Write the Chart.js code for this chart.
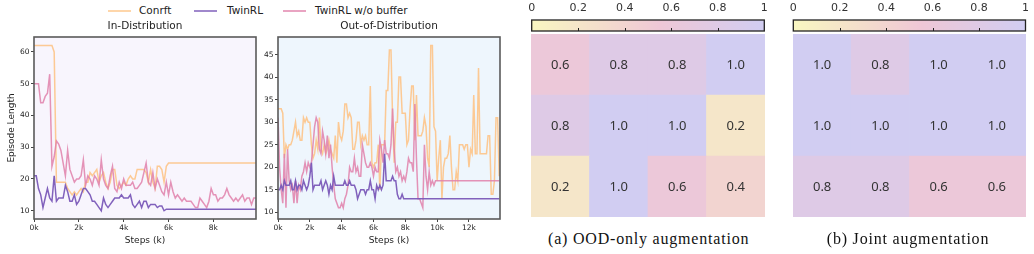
<!DOCTYPE html>
<html>
<head>
<meta charset="utf-8">
<script src="https://cdn.jsdelivr.net/npm/chart.js@4.4.1/dist/chart.umd.min.js"></script>
<style>
  html, body { margin: 0; padding: 0; background: #fff; }
  body { width: 1034px; height: 254px; position: relative; overflow: hidden; }
  canvas { position: absolute; }
  .lg-line { position: absolute; top: 10px; width: 23px; height: 2px; opacity: 0.75; }
  .lg-text { position: absolute; top: 4px; font: 10.5px "DejaVu Sans"; color: #222; white-space: nowrap; }
  .caption { position: absolute; top: 230px; font: 16px "Liberation Serif"; color: #111; text-align: center;
             letter-spacing: 0.8px; white-space: nowrap; }
</style>
</head>
<body>
<div class="lg-line" style="left:108px; background:#fdc88e"></div>
<div class="lg-text" style="left:139px">Conrft</div>
<div class="lg-line" style="left:194px; background:#8060bb"></div>
<div class="lg-text" style="left:227px">TwinRL</div>
<div class="lg-line" style="left:283px; background:#e285ad"></div>
<div class="lg-text" style="left:315px">TwinRL w/o buffer</div>

<canvas id="idChart" width="262" height="254" style="left:0; top:0"></canvas>
<canvas id="oodChart" width="250" height="254" style="left:256px; top:0"></canvas>

<canvas id="cbarA" width="266" height="34" style="left:515px; top:0"></canvas>
<canvas id="heatA" width="234" height="183" style="left:531px; top:34px"></canvas>
<div class="caption" style="left:548px; width:200px">(a) OOD-only augmentation</div>

<canvas id="cbarB" width="257" height="34" style="left:777px; top:0"></canvas>
<canvas id="heatB" width="233" height="183" style="left:793px; top:34px"></canvas>
<div class="caption" style="left:808px; width:200px">(b) Joint augmentation</div>

<script>
// ---- data: in-distribution (steps every 0.1k, 0 .. 9.9k)
const idConrft = [
  62, 62, 62, 62, 62, 62, 62, 62, 62, 60,
  19, 19, 19, 19, 19, 17, 16, 15, 16, 15,
  16, 17, 16, 19, 19, 22, 21, 22, 23, 19,
  21, 22, 19, 17, 19, 23, 23, 18, 17, 18,
  19, 18, 20, 21, 20, 20, 23, 23, 23, 23,
  22, 19, 23, 19, 17, 24, 24, 23, 19, 24,
  25, 25, 25, 25, 25, 25, 25, 25, 25, 25,
  25, 25, 25, 25, 25, 25, 25, 25, 25, 25,
  25, 25, 25, 25, 25, 25, 25, 25, 25, 25,
  25, 25, 25, 25, 25, 25, 25, 25, 25, 25
];
const idTwinRL = [
  21, 21, 17, 15, 11, 14, 17, 14, 13, 21,
  13, 14, 14, 14, 18, 16, 13, 13, 15, 12,
  13, 15, 17, 17, 16, 15, 13, 13, 12, 11,
  10, 14, 12, 11, 12, 13, 14, 14, 14, 15,
  14, 14, 14, 15, 12, 11, 12, 13, 11, 13,
  13, 11, 12, 12, 12, 11, 11.5, 11.5, 10, 10.5,
  10.5, 10.5, 10.5, 10.5, 10.5, 10.5, 10.5, 10.5, 10.5, 10.5,
  10.5, 10.5, 10.5, 10.5, 10.5, 10.5, 10.5, 10.5, 10.5, 10.5,
  10.5, 10.5, 10.5, 10.5, 10.5, 10.5, 10.5, 10.5, 10.5, 10.5,
  10.5, 10.5, 10.5, 10.5, 10.5, 10.5, 10.5, 10.5, 10.5, 10.5
];
const idNoBuffer = [
  50, 50, 50, 44, 44, 46, 47, 53, 24, 27,
  32, 31, 29, 25, 21, 29, 23, 21, 19, 20,
  20, 21, 26, 18, 21, 20, 18, 21, 20, 18,
  26, 20, 18, 17, 21, 24, 17, 16, 19, 17,
  20, 18, 18, 18, 19, 17, 17, 18, 19, 22,
  25, 19, 18, 22, 17, 20, 18, 16, 15, 19,
  15, 19, 16, 14, 15, 14, 13, 14, 13, 13,
  13, 12, 11, 11, 14, 13, 12, 11, 13, 17,
  15, 15, 13, 14, 14, 15, 17, 15, 14, 13,
  14, 13, 14, 15, 13, 14, 14, 12, 14, 14
];

// ---- data: out-of-distribution (steps every 0.1k, 0 .. 13.9k)
const oodConrft = [
  33, 33, 33, 32, 22, 25, 24, 25, 25, 26,
  28, 30, 27, 28, 26, 26, 31, 30, 31, 30,
  30, 25, 22, 23, 26, 24, 31, 24, 23, 25,
  23, 24, 26, 24, 23, 22, 27, 21, 30, 27,
  26, 28, 34, 34, 31, 32, 31, 24, 24, 26,
  30, 30, 25, 27, 26, 27, 25, 25, 38, 21,
  20, 21, 21, 25, 15, 25, 25, 25, 37, 37,
  46, 46, 31, 21, 30, 30, 40, 40, 32, 32,
  32, 25, 26, 33, 38, 38, 26, 36, 27, 27,
  27, 28, 31, 29, 22, 20, 47, 47, 29, 28,
  17, 22, 26, 13, 20, 22, 22, 23, 27, 20,
  15, 15, 19, 17, 25, 25, 25, 24, 25, 25,
  20, 24, 23, 36, 23, 23, 42, 23, 23, 23,
  23, 23, 27, 27, 14, 14, 17, 31, 31, 18
];
const oodTwinRL = [
  15, 15, 16, 15, 17, 16, 16, 16, 17, 15,
  15, 17, 15, 16, 16, 15, 17, 16, 15, 16,
  18, 21, 15, 16, 16, 16, 16, 17, 15, 16,
  17, 16, 14, 16, 15, 18, 16, 16, 16, 16,
  16, 16, 17, 16, 16, 17, 16, 16, 16, 15,
  13, 14, 15, 15, 15, 14, 15, 15, 17, 15,
  15, 13, 16, 15, 16, 15, 16, 23, 17, 17,
  17, 17, 18, 17, 17, 14, 13, 13, 14, 13,
  13, 13, 13, 13, 13, 13, 13, 13, 13, 13,
  13, 13, 13, 13, 13, 13, 13, 13, 13, 13,
  13, 13, 13, 13, 13, 13, 13, 13, 13, 13,
  13, 13, 13, 13, 13, 13, 13, 13, 13, 13,
  13, 13, 13, 13, 13, 13, 13, 13, 13, 13,
  13, 13, 13, 13, 13, 13, 13, 13, 13, 13
];
const oodNoBuffer = [
  31, 20, 15, 12, 23, 11, 24, 17, 15, 16,
  12, 17, 12, 16, 15, 18, 19, 21, 19, 21,
  20, 21, 25, 29, 31, 30, 24, 23, 28, 26,
  23, 27, 22, 25, 20, 16, 13, 12, 11, 11,
  12, 11, 13, 14, 16, 20, 19, 19, 22, 19,
  20, 18, 18, 25, 23, 21, 20, 20, 21, 20,
  18, 20, 19, 19, 26, 24, 21, 26, 23, 23,
  22, 25, 33, 24, 19, 20, 18, 19, 17, 18,
  17, 19, 22, 21, 21, 19, 34, 22, 13, 13,
  12, 11, 25, 18, 15, 19, 16, 17, 16, 17,
  17, 17, 17, 17, 17, 17, 17, 17, 17, 17,
  17, 17, 17, 17, 17, 17, 17, 17, 17, 17,
  17, 17, 17, 17, 17, 17, 17, 17, 17, 17,
  17, 17, 17, 17, 17, 17, 17, 17, 17, 17
];

const idXTicks = [0, 2, 4, 6, 8];
const oodXTicks = [0, 2, 4, 6, 8, 10, 12];
const idYTicks = [10, 20, 30, 40, 50, 60];
const oodYTicks = [10, 15, 20, 25, 30, 35, 40, 45];

// ---- data: success-rate heatmaps (rows top to bottom)
const oodOnlyRows = [
  [0.6, 0.8, 0.8, 1.0],
  [0.8, 1.0, 1.0, 0.2],
  [0.2, 1.0, 0.6, 0.4]
];
const jointRows = [
  [1.0, 0.8, 1.0, 1.0],
  [1.0, 1.0, 1.0, 1.0],
  [0.8, 0.8, 0.6, 0.6]
];
const colorbarTicks = [0, 0.2, 0.4, 0.6, 0.8, 1];

Chart.defaults.font.family = '"DejaVu Sans", sans-serif';
Chart.defaults.color = '#222';

// background + box around each line plot
const plotFrame = {
  id: 'plotFrame',
  beforeDraw(chart, args, opts) {
    const { ctx, chartArea: a } = chart;
    ctx.save();
    ctx.fillStyle = opts.fill;
    ctx.fillRect(a.left, a.top, a.width, a.height);
    ctx.restore();
  },
  afterDraw(chart) {
    const { ctx, chartArea: a } = chart;
    ctx.save();
    ctx.strokeStyle = '#5a5a5a';
    ctx.lineWidth = 1.6;
    ctx.strokeRect(a.left, a.top, a.width, a.height);
    ctx.restore();
  }
};

function toPoints(values) {
  return values.map((v, i) => ({ x: i / 10, y: v }));
}

function lineChart(id, cfg) {
  const sets = [
    { label: 'Conrft', data: toPoints(cfg.conrft), borderColor: 'rgba(253, 196, 136, 0.9)', order: 2 },
    { label: 'TwinRL', data: toPoints(cfg.twin), borderColor: 'rgba(122, 88, 184, 0.95)', order: 0 },
    { label: 'TwinRL w/o buffer', data: toPoints(cfg.noBuf), borderColor: 'rgba(224, 128, 170, 0.85)', order: 1 }
  ];
  sets.forEach(s => { s.borderWidth = 1.5; s.pointRadius = 0; s.tension = 0; s.fill = false; });

  new Chart(document.getElementById(id), {
    type: 'line',
    data: { datasets: sets },
    options: {
      responsive: false,
      animation: false,
      devicePixelRatio: 1,
      layout: { padding: { left: 0, right: cfg.padRight, top: 0, bottom: 0 } },
      plugins: {
        legend: { display: false },
        tooltip: { enabled: false },
        title: {
          display: true,
          text: cfg.title,
          fullSize: false,
          font: { size: 10.5, weight: 'normal' },
          color: '#222',
          padding: { top: 20.4, bottom: 4 }
        },
        plotFrame: { fill: cfg.bg }
      },
      scales: {
        x: {
          type: 'linear',
          min: 0,
          max: cfg.xMax,
          grid: { display: true, drawOnChartArea: false, tickLength: 3, color: '#444' },
          border: { display: false },
          ticks: { font: { size: 7.5 }, padding: 2, color: '#222', callback: v => v + 'k' },
          afterBuildTicks: s => { s.ticks = cfg.xTicks.map(v => ({ value: v })); },
          afterFit: s => { s.height = 35; },
          title: { display: true, text: 'Steps (k)', font: { size: 9 }, padding: { top: 0, bottom: 8 } }
        },
        y: {
          min: cfg.yMin,
          max: cfg.yMax,
          grid: { display: true, drawOnChartArea: false, tickLength: 3, color: '#444' },
          border: { display: false },
          ticks: { font: { size: 7.5 }, padding: 1.5, color: '#222' },
          afterBuildTicks: s => { s.ticks = cfg.yTicks.map(v => ({ value: v })); },
          afterFit: s => { s.width = cfg.yWidth; },
          title: { display: cfg.yTitle, text: 'Episode Length', font: { size: 9 }, padding: { top: 6.5, bottom: 0 } }
        }
      }
    },
    plugins: [plotFrame]
  });
}

lineChart('idChart', {
  conrft: idConrft, twin: idTwinRL, noBuf: idNoBuffer,
  title: 'In-Distribution', bg: '#f8f5fd',
  xMax: 9.9, xTicks: idXTicks, yMin: 7.4, yMax: 64.7, yTicks: idYTicks,
  yWidth: 34, padRight: 6, yTitle: true
});

lineChart('oodChart', {
  conrft: oodConrft, twin: oodTwinRL, noBuf: oodNoBuffer,
  title: 'Out-of-Distribution', bg: '#eef6fd',
  xMax: 13.95, xTicks: oodXTicks, yMin: 8.5, yMax: 48.9, yTicks: oodYTicks,
  yWidth: 22, padRight: 6, yTitle: false
});

// ---- colour map shared by heatmaps and colour bars
const cmapStops = [
  [0, [249, 247, 193]],
  [0.55, [239, 199, 214]],
  [1, [209, 205, 242]]
];

function heatColor(v) {
  for (let i = 1; i < cmapStops.length; i++) {
    const [p0, c0] = cmapStops[i - 1];
    const [p1, c1] = cmapStops[i];
    if (v <= p1) {
      const t = (v - p0) / (p1 - p0);
      const c = c0.map((c, k) => Math.round(c + (c1[k] - c) * t));
      return `rgb(${c[0]}, ${c[1]}, ${c[2]})`;
    }
  }
  const c = cmapStops[cmapStops.length - 1][1];
  return `rgb(${c[0]}, ${c[1]}, ${c[2]})`;
}

const cellLabels = {
  id: 'cellLabels',
  afterDatasetsDraw(chart) {
    const { ctx } = chart;
    ctx.save();
    ctx.font = '13px "Noto Sans", sans-serif';
    ctx.fillStyle = '#333';
    ctx.textAlign = 'center';
    ctx.textBaseline = 'middle';
    chart.data.datasets.forEach((ds, i) => {
      chart.getDatasetMeta(i).data.forEach((bar, j) => {
        ctx.fillText(ds.heat[j].toFixed(1), bar.x, (bar.y + bar.base) / 2 + 1);
      });
    });
    ctx.restore();
  }
};

function heatmap(id, rows) {
  // stacked unit bars: first dataset is the bottom row
  const datasets = rows.slice().reverse().map(row => ({
    data: row.map(() => 1),
    heat: row,
    backgroundColor: row.map(v => heatColor(v)),
    borderWidth: 0,
    barPercentage: 1,
    categoryPercentage: 1
  }));
  new Chart(document.getElementById(id), {
    type: 'bar',
    data: { labels: ['1', '2', '3', '4'], datasets },
    options: {
      responsive: false,
      animation: false,
      devicePixelRatio: 1,
      layout: { padding: 0 },
      plugins: { legend: { display: false }, tooltip: { enabled: false } },
      scales: {
        x: { display: false, stacked: true },
        y: { display: false, stacked: true, min: 0, max: rows.length }
      }
    },
    plugins: [cellLabels]
  });
}

const cbarFrame = {
  id: 'cbarFrame',
  afterDraw(chart) {
    const { ctx, chartArea: a, scales } = chart;
    ctx.save();
    ctx.strokeStyle = '#222';
    ctx.lineWidth = 1;
    colorbarTicks.slice(1, -1).forEach(v => {
      const x = Math.round(scales.x.getPixelForValue(v)) + 0.5;
      ctx.beginPath();
      ctx.moveTo(x, a.bottom);
      ctx.lineTo(x, a.bottom - 3);
      ctx.stroke();
    });
    ctx.lineWidth = 1.3;
    ctx.strokeRect(a.left, a.top, a.width, a.height);
    ctx.restore();
  }
};

function colorbar(id, padLeft, padRight) {
  new Chart(document.getElementById(id), {
    type: 'bar',
    data: {
      labels: [''],
      datasets: [{
        data: [1],
        borderWidth: 0,
        barPercentage: 1,
        categoryPercentage: 1,
        backgroundColor: c => {
          const a = c.chart.chartArea;
          if (!a) return null;
          const g = c.chart.ctx.createLinearGradient(a.left, 0, a.right, 0);
          cmapStops.forEach(([p]) => g.addColorStop(p, heatColor(p)));
          [0.15, 0.3, 0.45, 0.7, 0.85].forEach(p => g.addColorStop(p, heatColor(p)));
          return g;
        }
      }]
    },
    options: {
      indexAxis: 'y',
      responsive: false,
      animation: false,
      devicePixelRatio: 1,
      layout: { padding: { left: padLeft, right: padRight, top: 0, bottom: 3 } },
      plugins: { legend: { display: false }, tooltip: { enabled: false } },
      scales: {
        x: {
          type: 'linear',
          position: 'top',
          min: 0,
          max: 1,
          grid: { display: false, drawTicks: false },
          border: { display: false },
          ticks: {
            font: { size: 11 },
            color: '#333',
            padding: 5,
            callback: v => (v === 0 || v === 1) ? String(v) : v.toFixed(1)
          },
          afterBuildTicks: s => { s.ticks = colorbarTicks.map(v => ({ value: v })); },
          afterFit: s => { s.height = 20; }
        },
        y: { display: false }
      }
    },
    plugins: [cbarFrame]
  });
}

colorbar('cbarA', 16.7, 16.7);
heatmap('heatA', oodOnlyRows);
colorbar('cbarB', 16.3, 8.3);
heatmap('heatB', jointRows);
</script>
</body>
</html>
